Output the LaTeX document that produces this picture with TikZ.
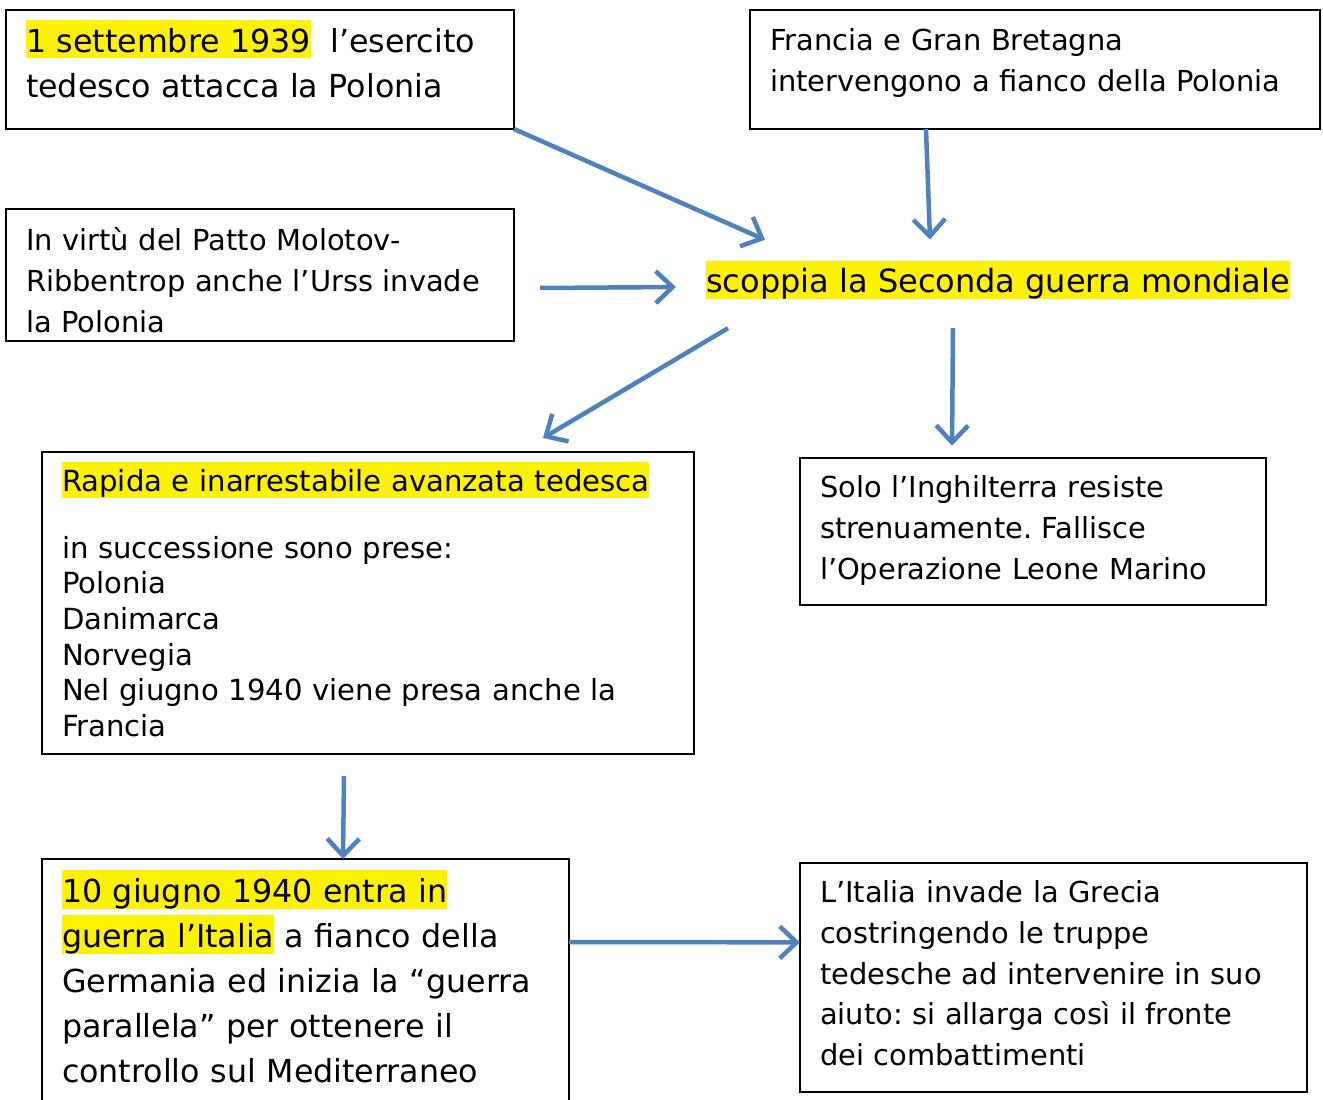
\documentclass[tikz,border=0pt]{standalone}
\usepackage{fontspec}
\setmainfont{DejaVu Sans}
\usepackage{xcolor}
\usetikzlibrary{positioning,arrows.meta}
\definecolor{freccia}{RGB}{79,129,189}
\newcommand{\evid}[1]{{\setlength{\fboxsep}{0pt}\colorbox{yellow}{\rule[-0.2em]{0pt}{1.22em}#1}}}
\frenchspacing

\begin{document}
\begin{tikzpicture}[x=1pt,y=-1pt,
    box/.style={draw, line width=1.7pt, anchor=north west, align=left, inner xsep=20pt, inner ysep=0pt, outer sep=0pt},
    testo/.style={font=\fontsize{28.9}{41}\selectfont},
    grande/.style={font=\fontsize{31.7}{45}\selectfont},
    link/.style={draw=freccia, line width=4.5pt, -{Straight Barb[length=17pt,width=32pt]}}]
  \useasboundingbox (0,0) rectangle (1323,1100);

  % riquadri in alto
  \node[box, grande, text width=468pt, text height=42pt, text depth=77pt] (attacco) at (6,10)
    {\evid{1 settembre 1939}\hspace{0.6em}l’esercito\\tedesco attacca la Polonia};
  \node[box, testo, text width=530pt, text height=40pt, text depth=79pt] (alleati) at (750,10)
    {Francia e Gran Bretagna\\intervengono a fianco della Polonia};
  \node[box, testo, text width=468pt, text height=41pt, text depth=91pt] (patto) at (6,209)
    {In virtù del Patto Molotov-\\Ribbentrop anche l’Urss invade\\la Polonia};

  % evento centrale
  \node[fill=yellow, font=\fontsize{32}{45}\selectfont, inner sep=0pt, text height=32pt, text depth=6pt, anchor=base west] (guerra) at (706,292.7)
    {scoppia la Seconda guerra mondiale};

  % riquadri in mezzo
  \node[box, font=\fontsize{29.1}{35.6}\selectfont, text width=612pt, text height=39.7pt, text depth=262.3pt] (avanzata) at (42,452)
    {\evid{Rapida e inarrestabile avanzata tedesca}\\[31pt]in successione sono prese:\\Polonia\\Danimarca\\Norvegia\\Nel giugno 1940 viene presa anche la\\Francia};
  \node[box, testo, text width=426pt, text height=40pt, text depth=107.3pt] (resistenza) at (800,457.7)
    {Solo l’Inghilterra resiste\\strenuamente. Fallisce\\l’Operazione Leone Marino};

  % riquadri in basso
  \node[box, grande, text width=487pt, text height=43.7pt, text depth=207.3pt] (italia) at (42,859)
    {\evid{10 giugno 1940 entra in}\\\evid{guerra l’Italia} a fianco della\\Germania ed inizia la “guerra\\parallela” per ottenere il\\controllo sul Mediterraneo};
  \node[box, font=\fontsize{28.9}{40.7}\selectfont, text width=467pt, text height=40pt, text depth=189.3pt] (grecia) at (800,862.7)
    {L’Italia invade la Grecia\\costringendo le truppe\\tedesche ad intervenire in suo\\aiuto: si allarga così il fronte\\dei combattimenti};

  % frecce
  \draw[link] (attacco.south east) -- ([xshift=59pt,yshift=20.7pt]guerra.north west);
  \draw[link] ([xshift=176pt]alleati.south west) -- ([xshift=-68pt,yshift=21pt]guerra.north);
  \draw[link] ([xshift=26pt,yshift=-13pt]patto.east) -- ([xshift=-30pt,yshift=-7.3pt]guerra.west);
  \draw[link] ([xshift=22pt,yshift=-29.3pt]guerra.south west) -- ([xshift=175pt,yshift=14pt]avanzata.north);
  \draw[link] ([xshift=-45pt,yshift=-29.3pt]guerra.south) -- ([xshift=-81pt,yshift=12pt]resistenza.north);
  \draw[link] ([xshift=-24pt,yshift=-22pt]avanzata.south) -- ([xshift=37.5pt]italia.north);
  \draw[link] ([yshift=-83pt]italia.north east) -- ([yshift=35pt]grecia.west);
\end{tikzpicture}
\end{document}
